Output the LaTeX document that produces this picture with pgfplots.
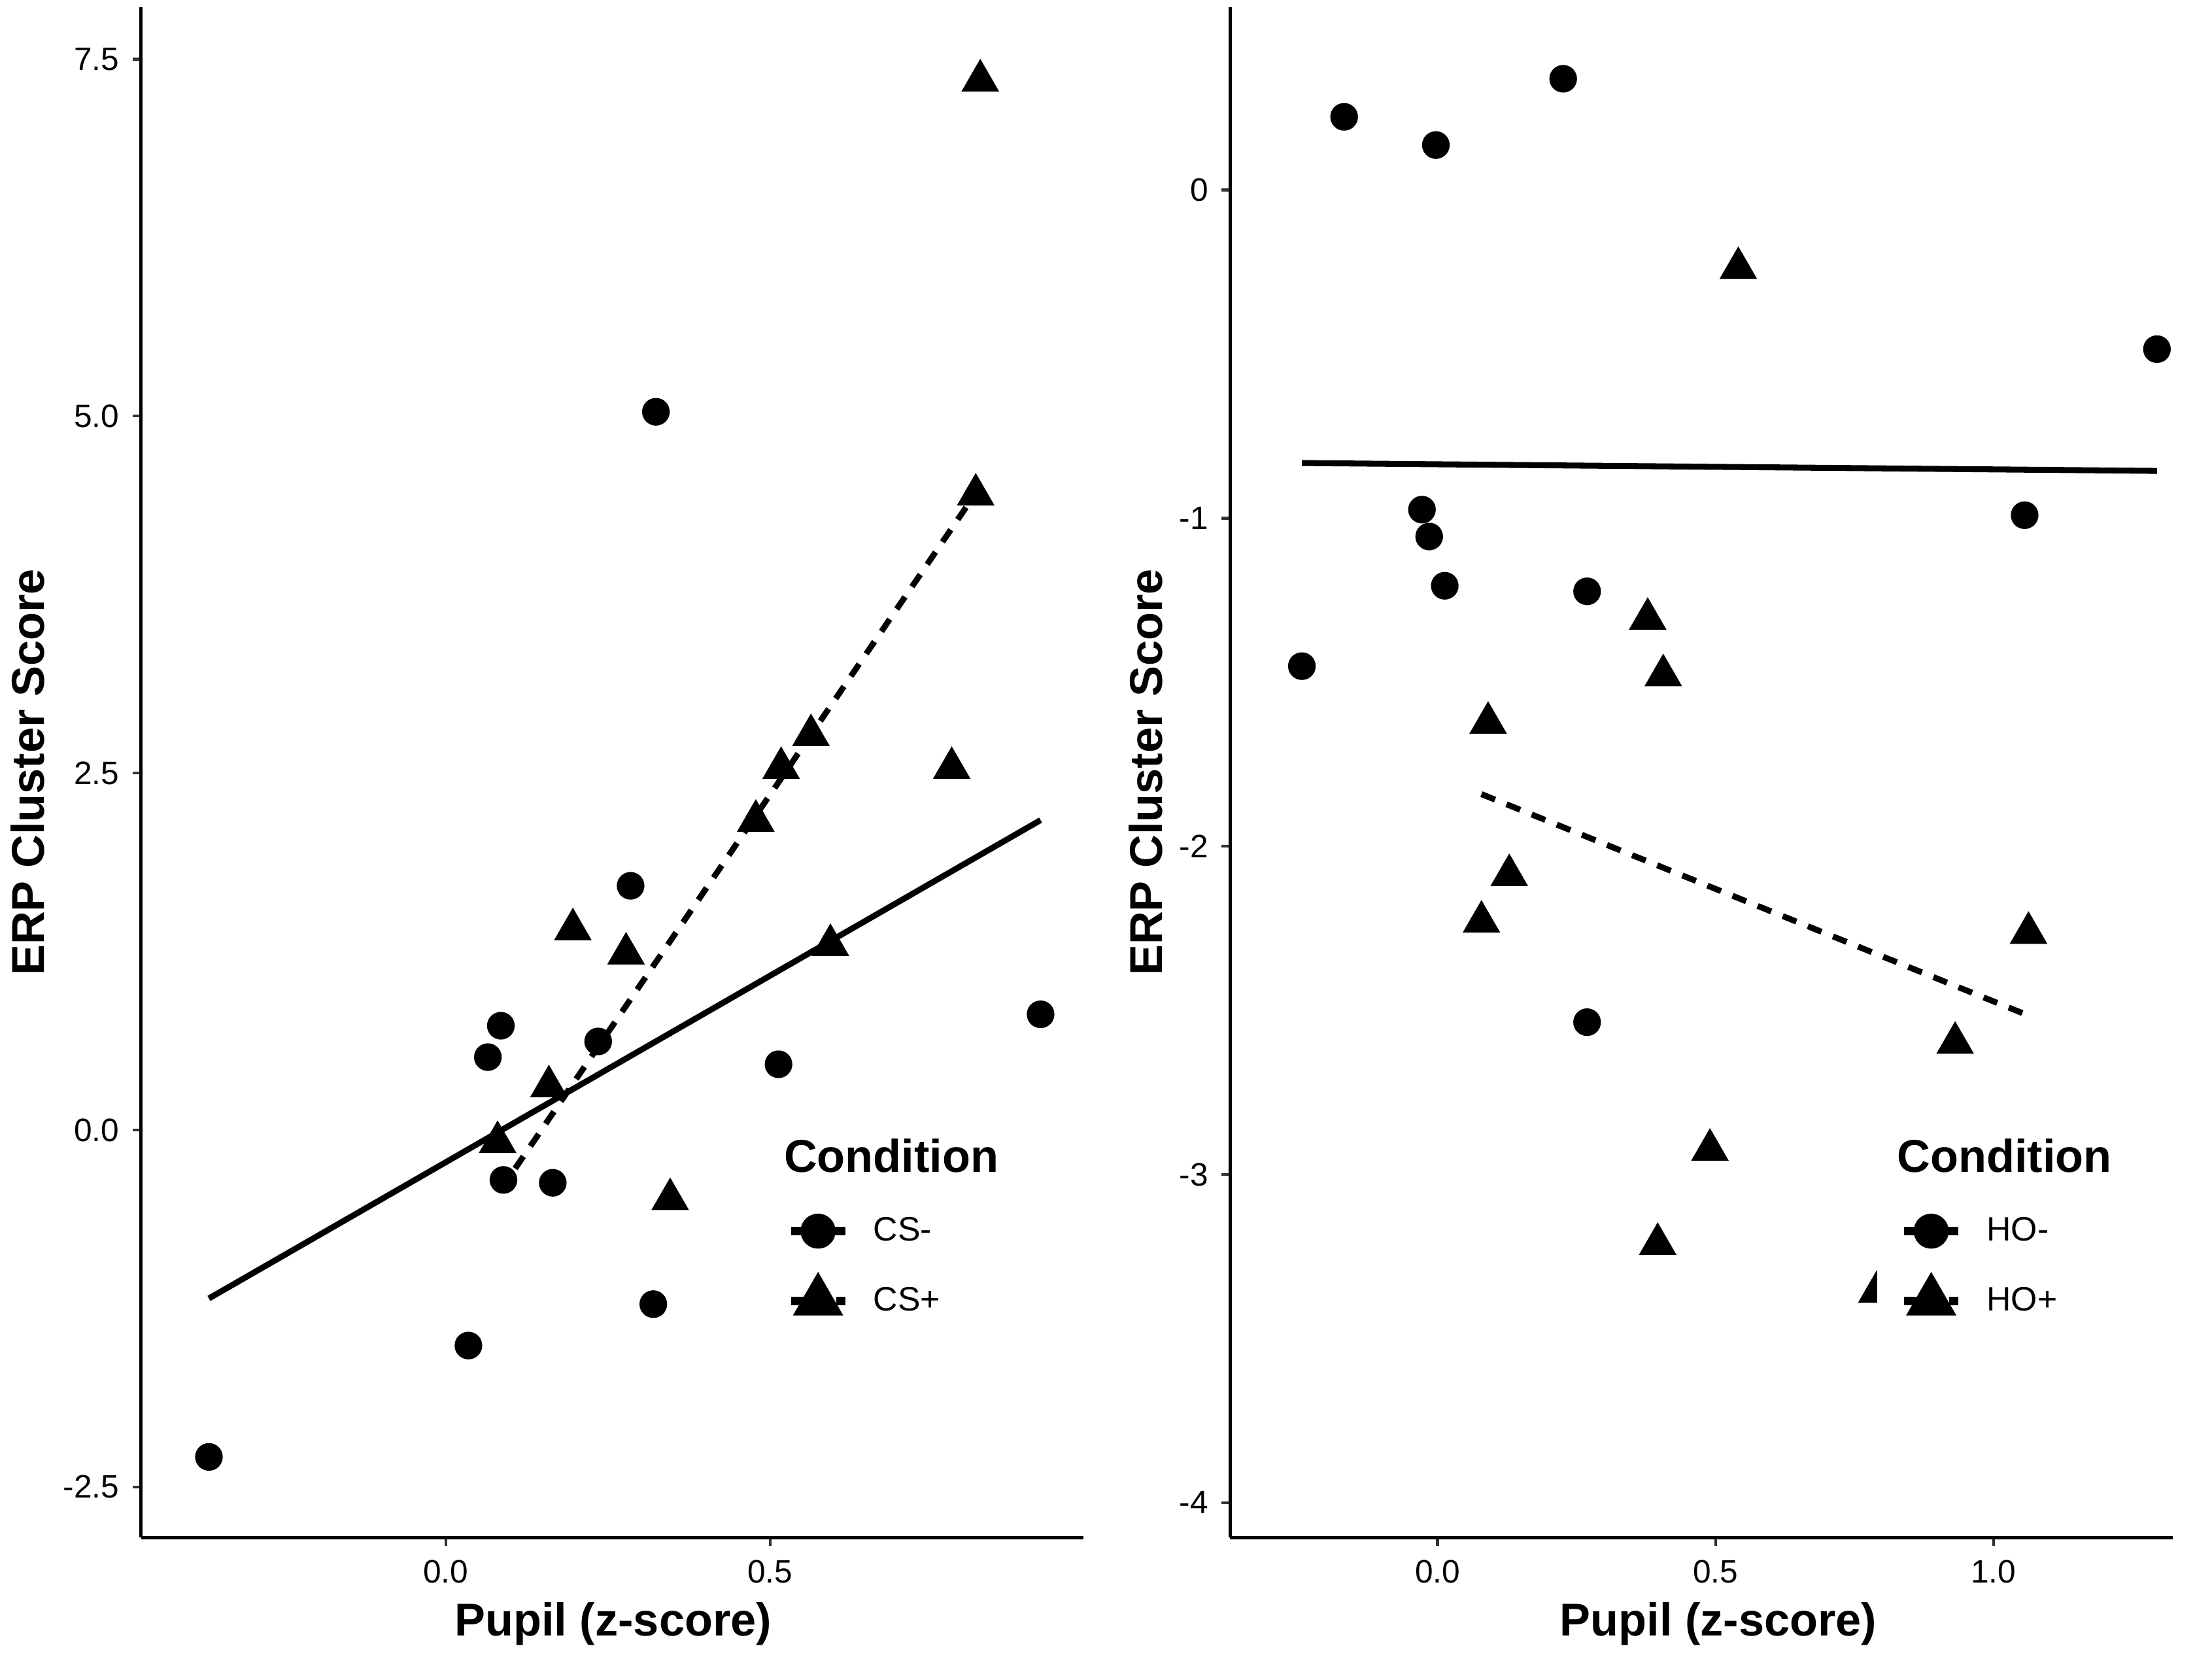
\documentclass[border=0pt]{standalone}
\usepackage{pgfplots}
\pgfplotsset{compat=1.18}
\usepackage{fontspec}
\setmainfont{Liberation Sans}
\definecolor{tk}{HTML}{333333}

\pgfplotsset{
  myaxis/.style={
    scale only axis, width=334bp, height=542.5bp, anchor=south west,
    axis x line*=bottom, axis y line*=left,
    axis line style={line width=1.2bp, black, -},
    tick align=outside, major tick length=3bp,
    tick style={line width=1bp, color=tk},
    ticklabel style={font=\fontsize{11.5bp}{13bp}\selectfont, text=black},
    xticklabel style={yshift=-1.5bp},
    yticklabel style={xshift=-1.3bp},
    label style={font=\bfseries\fontsize{16.3bp}{19bp}\selectfont},
    legend style={draw=none, fill=white, anchor=north west,
      font=\fontsize{12bp}{14bp}\selectfont, cells={anchor=west},
      row sep=10.5bp, inner xsep=8bp, inner ysep=4bp,
      /tikz/every odd column/.style={column sep=6.5bp}},
    legend image code/.code={\draw[mark repeat=2,mark phase=2,#1] plot coordinates {(0bp,0bp)(9.65bp,0bp)(19.3bp,0bp)};},
  },
  circ/.style={only marks, mark=*, mark size=4.7bp, black},
  tri/.style={only marks, mark=triangle*, mark size=7.3bp, black},
  fitline/.style={black, line width=2.1bp},
  fitdash/.style={black, line width=2.1bp, dash pattern=on 5.2bp off 4.4bp},
}

\begin{document}
\begin{tikzpicture}
\useasboundingbox (0,0) rectangle (784bp,588.6bp);

% ---------------- Left panel ----------------
\begin{axis}[myaxis, at={(50bp,43.65bp)},
  xmin=-0.4696, xmax=0.983, ymin=-2.856, ymax=7.866,
  xtick={0,0.5}, xticklabels={0.0,0.5},
  ytick={-2.5,0,2.5,5,7.5}, yticklabels={-2.5,0.0,2.5,5.0,7.5},
  xlabel={Pupil (z-score)}, ylabel={ERP Cluster Score},
  xlabel style={at={(axis description cs:0.501,-0.064)}, anchor=base},
  ylabel style={at={(axis description cs:-0.12,0.5)}, anchor=center},
  legend style={at={(axis description cs:0.6605,0.272)}},
]
\addplot[circ, forget plot] coordinates {
 (0.324,5.03) (0.285,1.71) (0.085,0.73) (0.065,0.51) (0.235,0.62)
 (0.513,0.46) (0.917,0.81) (0.089,-0.35) (0.165,-0.37) (0.320,-1.22)
 (0.035,-1.51) (-0.365,-2.29)
};
\addplot[tri, forget plot] coordinates {
 (0.824,7.35) (0.817,4.45) (0.563,2.765) (0.517,2.535) (0.478,2.165)
 (0.780,2.535) (0.196,1.405) (0.278,1.235) (0.593,1.295) (0.159,0.305)
 (0.080,-0.085) (0.346,-0.485)
};
\addplot[fitline, forget plot] coordinates {(-0.365,-1.18) (0.917,2.17)};
\addplot[fitdash, forget plot] coordinates {(0.107,-0.27) (0.817,4.46)};
\addlegendimage{empty legend}
\addlegendentry{\hspace*{-31.7bp}\bfseries\fontsize{16.3bp}{19bp}\selectfont Condition}
\addlegendimage{black, line width=3bp, mark=*, mark size=4.7bp}
\addlegendentry{CS-}
\addlegendimage{black, line width=3bp, dash pattern=on 5bp off 3bp, mark=triangle*, mark size=7.3bp, mark options={solid}}
\addlegendentry{CS+}
\end{axis}

% ---------------- Right panel ----------------
\begin{axis}[myaxis, at={(436bp,43.65bp)},
  xmin=-0.373, xmax=1.322, ymin=-4.107, ymax=0.558,
  xtick={0,0.5,1}, xticklabels={0.0,0.5,1.0},
  ytick={-4,-3,-2,-1,0}, yticklabels={-4,-3,-2,-1,0},
  xlabel={Pupil (z-score)}, ylabel={ERP Cluster Score},
  xlabel style={at={(axis description cs:0.518,-0.064)}, anchor=base},
  ylabel style={at={(axis description cs:-0.0898,0.5)}, anchor=center},
  legend style={at={(axis description cs:0.686,0.272)}},
]
\addplot[circ, forget plot] coordinates {
 (-0.168,0.223) (-0.003,0.137) (0.226,0.339) (1.294,-0.485)
 (-0.028,-0.974) (-0.015,-1.056) (0.013,-1.206) (0.269,-1.223)
 (-0.244,-1.451) (1.056,-0.991) (0.269,-2.536)
};
\addplot[tri, forget plot] coordinates {
 (0.541,-0.238) (0.378,-1.307) (0.406,-1.479) (0.091,-1.624)
 (0.129,-2.088) (0.079,-2.230) (1.063,-2.264) (0.931,-2.599)
 (0.490,-2.925) (0.396,-3.212) (0.790,-3.358)
};
\addplot[fitline, forget plot] coordinates {(-0.244,-0.832) (1.294,-0.856)};
\addplot[fitdash, forget plot] coordinates {(0.079,-1.841) (1.056,-2.511)};
\addlegendimage{empty legend}
\addlegendentry{\hspace*{-31.7bp}\bfseries\fontsize{16.3bp}{19bp}\selectfont Condition}
\addlegendimage{black, line width=3bp, mark=*, mark size=4.7bp}
\addlegendentry{HO-}
\addlegendimage{black, line width=3bp, dash pattern=on 5bp off 3bp, mark=triangle*, mark size=7.3bp, mark options={solid}}
\addlegendentry{HO+}
\end{axis}
\end{tikzpicture}
\end{document}
